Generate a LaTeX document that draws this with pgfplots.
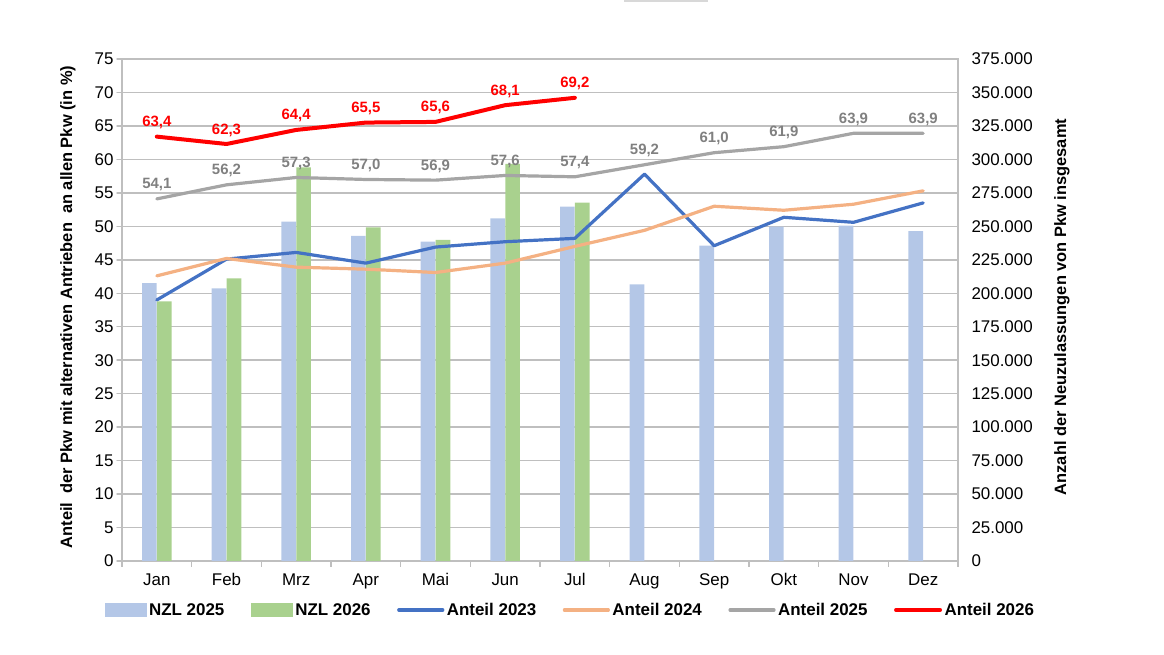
\documentclass[border=0pt]{standalone}
\usepackage{fontspec}
\setmainfont{Liberation Sans}
\usepackage{pgfplots}
\pgfplotsset{compat=1.18}
\definecolor{nzlA}{RGB}{180,199,231}
\definecolor{nzlB}{RGB}{169,209,142}
\definecolor{cA}{RGB}{68,114,196}
\definecolor{cB}{RGB}{244,177,131}
\definecolor{cC}{RGB}{165,165,165}
\definecolor{cD}{RGB}{255,0,0}
\definecolor{gridc}{RGB}{191,191,191}
\definecolor{labC}{RGB}{128,128,128}
\pgfplotsset{
  boxlegend/.style={legend image code/.code={\fill[##1, draw=none] (0bp,-7bp) rectangle (42bp,7bp);}},
  linelegend/.style={legend image code/.code={\draw[##1, line cap=round] (0bp,0bp) -- (44bp,0bp);}},
}
\begin{document}
\begin{tikzpicture}[x=1bp,y=1bp]
\path[use as bounding box] (0,0) rectangle (1164,655);
\draw[gridc!60, line width=1.5bp] (624,654.2) -- (708,654.2);
% ---------- bars, right axis, grid, x axis ----------
\begin{axis}[
  at={(122bp,94bp)}, anchor=south west, scale only axis,
  width=836bp, height=502bp,
  xmin=-0.5, xmax=11.5, ymin=0, ymax=375000,
  axis line style={gridc, line width=1.5bp},
  ymajorgrids, grid style={gridc, line width=1.5bp},
  xtick={0,...,11},
  xticklabels={Jan,Feb,Mrz,Apr,Mai,Jun,Jul,Aug,Sep,Okt,Nov,Dez},
  minor xtick={-0.5,0.5,...,11.5},
  xtick pos=bottom, ytick pos=right, yticklabel pos=right,
  major tick length=0pt, minor tick length=6bp, tick align=outside,
  minor tick style={gridc, line width=1.5bp},
  ytick={0,25000,...,375000},
  yticklabels={0,25.000,50.000,75.000,100.000,125.000,150.000,175.000,200.000,225.000,250.000,275.000,300.000,325.000,350.000,375.000},
  scaled y ticks=false,
  tick label style={font=\fontsize{17}{20}\selectfont, text=black},
  yticklabel style={xshift=10bp},
  xticklabel style={yshift=-9bp},
  ylabel={Anzahl der Neuzulassungen von Pkw insgesamt},
  every axis y label/.style={at={(axis description cs:1.1244,0.506)}, rotate=90, anchor=center, font=\bfseries\fontsize{16.5}{19}\selectfont},
  clip=false,
]
\addplot[ybar, bar width=0.21, bar shift=-0.107, fill=nzlA, draw=none] coordinates {
(0,207500) (1,203700) (2,253500) (3,242800) (4,238500) (5,256000) (6,264700)
(7,206700) (8,235500) (9,249800) (10,250500) (11,246500)};
\addplot[ybar, bar width=0.21, bar shift=0.107, fill=nzlB, draw=none] coordinates {
(0,194000) (1,211200) (2,294100) (3,249300) (4,239800) (5,296600) (6,267700)};
\end{axis}
% ---------- lines, left axis ----------
\begin{axis}[
  at={(122bp,94bp)}, anchor=south west, scale only axis,
  width=836bp, height=502bp,
  xmin=-0.5, xmax=11.5, ymin=0, ymax=75,
  axis x line=none, axis y line*=left,
  axis line style={gridc, line width=1.5bp},
  ytick={0,5,...,75},
  /pgf/number format/assume math mode=true,
  tick align=outside, major tick length=5bp,
  major tick style={gridc, line width=1.5bp},
  tick label style={font=\fontsize{17}{20}\selectfont, text=black},
  ylabel={Anteil\ \ der Pkw mit alternativen Antrieben\ \ an allen Pkw (in \%)},
  every axis y label/.style={at={(axis description cs:-0.0646,0.506)}, rotate=90, anchor=center, font=\bfseries\fontsize{16.5}{19}\selectfont},
  clip=false,
  legend columns=6,
  legend style={at={(axis description cs:0.5365,-0.0976)}, anchor=center, draw=none, fill=none,
    font=\bfseries\fontsize{17}{20}\selectfont,
    /tikz/every even column/.append style={column sep=24bp},
    nodes={inner sep=2.5bp}},
  line join=round, line cap=round,
]
\addlegendimage{boxlegend, fill=nzlA}
\addlegendentry{NZL 2025}
\addlegendimage{boxlegend, fill=nzlB}
\addlegendentry{NZL 2026}
\addplot[cA, line width=3.2bp, mark=none, linelegend] coordinates {
(0,39.0) (1,45.1) (2,46.1) (3,44.5) (4,46.9) (5,47.7) (6,48.2) (7,57.8) (8,47.1) (9,51.35) (10,50.6) (11,53.5)};
\addlegendentry{Anteil 2023}
\addplot[cB, line width=3.2bp, mark=none, linelegend] coordinates {
(0,42.6) (1,45.2) (2,43.9) (3,43.6) (4,43.1) (5,44.5) (6,47.0) (7,49.4) (8,53.0) (9,52.4) (10,53.3) (11,55.3)};
\addlegendentry{Anteil 2024}
\addplot[cC, line width=3.2bp, mark=none, linelegend,
  nodes near coords, point meta=explicit symbolic,
  every node near coord/.style={anchor=base, yshift=10bp, inner sep=1bp, text=labC, font=\bfseries\fontsize{15}{18}\selectfont}] coordinates {
(0,54.1) [54,1] (1,56.2) [56,2] (2,57.3) [57,3] (3,57.0) [57,0] (4,56.9) [56,9] (5,57.6) [57,6]
(6,57.4) [57,4] (7,59.2) [59,2] (8,61.0) [61,0] (9,61.9) [61,9] (10,63.9) [63,9] (11,63.9) [63,9]};
\addlegendentry{Anteil 2025}
\addplot[cD, line width=4bp, mark=none, linelegend,
  nodes near coords, point meta=explicit symbolic,
  every node near coord/.style={anchor=base, yshift=10bp, inner sep=1bp, text=cD, font=\bfseries\fontsize{15}{18}\selectfont}] coordinates {
(0,63.4) [63,4] (1,62.3) [62,3] (2,64.4) [64,4] (3,65.5) [65,5] (4,65.6) [65,6] (5,68.1) [68,1] (6,69.2) [69,2]};
\addlegendentry{Anteil 2026}
\end{axis}
\end{tikzpicture}
\end{document}
